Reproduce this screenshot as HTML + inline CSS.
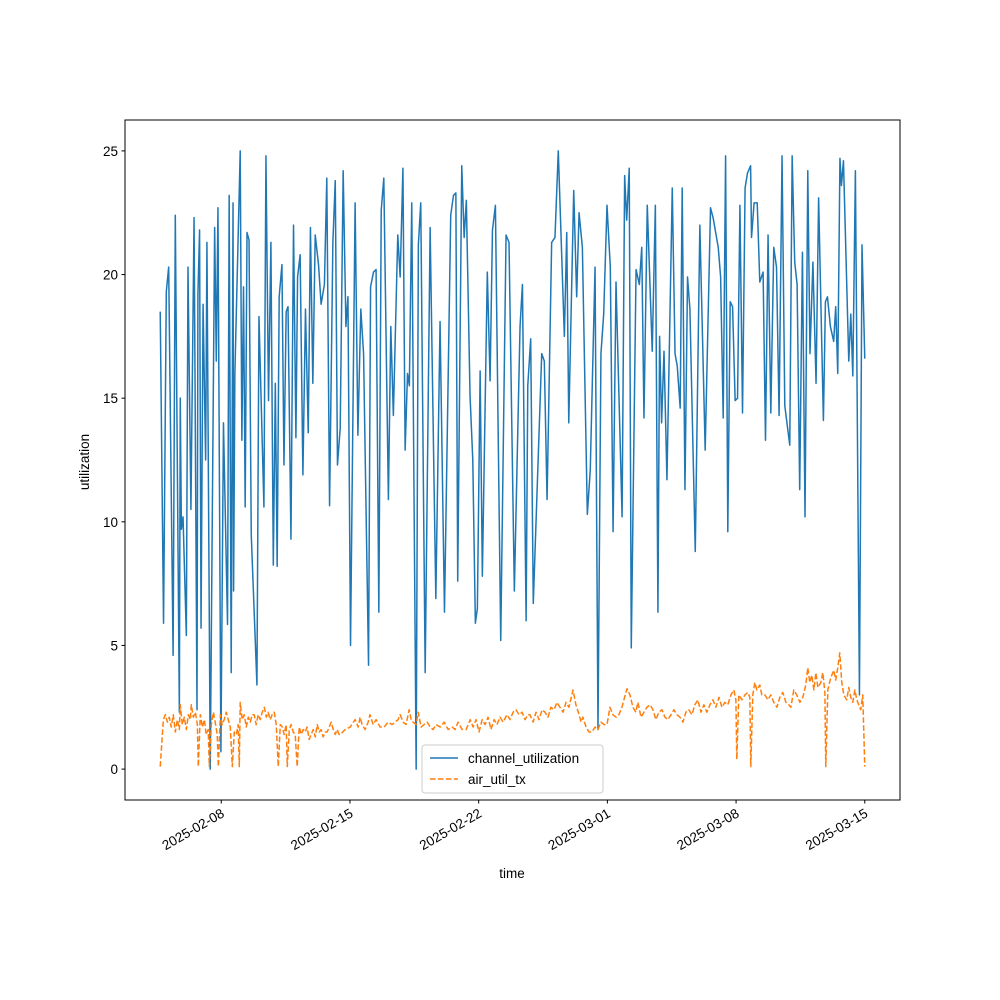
<!DOCTYPE html>
<html><head><meta charset="utf-8">
<style>
body{margin:0;background:#fff;}
svg{display:block;font-family:"Liberation Sans","DejaVu Sans",sans-serif;}
</style></head>
<body>
<svg id="chart" width="1000" height="1000" viewBox="0 0 1000 1000">
<rect x="0" y="0" width="1000" height="1000" fill="#fff"/>
<g id="plot"></g>
<g id="axes"></g>
<rect x="125" y="120" width="775" height="680" fill="none" stroke="#000" stroke-width="1"/>
<text x="512" y="878" font-size="13.5" text-anchor="middle">time</text>
<text x="0" y="0" font-size="13.5" text-anchor="middle" transform="translate(89,462) rotate(-90)">utilization</text>
<g>
<rect x="422" y="745" width="181" height="48" rx="3" fill="#fff" fill-opacity="0.8" stroke="#ccc"/>
<line x1="430" y1="758" x2="458" y2="758" stroke="#1f77b4" stroke-width="1.5"/>
<text x="468" y="763" font-size="13.5">channel_utilization</text>
<line x1="430" y1="779" x2="458" y2="779" stroke="#ff7f0e" stroke-width="1.5" stroke-dasharray="5.55,2.4"/>
<text x="468" y="784" font-size="13.5">air_util_tx</text>
</g>
</svg>
<script>
// time unit: days since 2025-02-01 00:00
const chDays = [3.68,3.86,4.01,4.14,4.38,4.50,4.72,4.77,4.83,4.92,5.10,5.19,5.35,5.52,5.68,5.73,5.82,5.90,6.01,6.15,6.22,6.40,6.64,6.73,6.82,6.98,7.12,7.34,7.43,7.54,7.64,7.67,7.74,8.03,8.12,8.21,8.30,8.40,8.51,8.63,8.94,9.05,9.32,9.43,9.57,9.70,9.83,9.94,10.04,10.15,10.30,10.41,10.53,10.63,10.79,10.93,11.06,11.15,11.29,11.44,11.58,11.73,11.85,11.98,12.11,12.29,12.43,12.61,12.74,12.89,13.07,13.20,13.32,13.47,13.63,13.78,13.89,14.03,14.28,14.43,14.59,14.74,15.01,15.12,15.28,15.42,15.57,15.70,15.84,16.09,16.22,16.36,16.60,16.73,16.88,17.00,17.13,17.23,17.36,17.60,17.72,17.85,18.09,18.36,18.67,18.90,19.14,19.48,19.63,19.76,19.86,20.08,20.21,20.33,20.53,20.68,20.82,20.93,21.08,21.20,21.47,21.62,21.75,21.91,22.20,22.49,22.65,22.94,23.25,23.38,23.58,23.67,23.83,23.97,24.43,24.57,24.72,24.97,25.15,25.33,25.66,25.79,25.90,26.17,26.33,26.46,26.64,26.91,27.07,27.33,27.49,27.65,27.80,27.98,28.16,28.31,28.47,28.80,28.94,29.05,29.19,29.30,29.56,29.74,29.87,29.99,30.17,30.44,30.61,30.75,30.84,30.95,31.08,31.24,31.53,31.68,31.80,31.96,32.07,32.22,32.36,32.49,32.78,33.03,33.32,33.61,33.75,34.03,34.16,34.30,34.43,34.55,34.68,34.81,34.95,35.08,35.21,35.35,35.49,35.62,35.79,35.84,35.98,36.15,36.29,36.47,36.60,36.74,36.89,37.05,37.20,37.34,37.50,37.65,37.92,38.05,38.19,38.32,38.46,38.61,38.75,38.90,39.02,39.18,39.35,39.49,39.75,39.86,39.97,40.13,40.31,40.42,40.53,40.65,40.73,40.84,41.13,41.24,41.35,41.49,41.71,41.85,42.00];
const chVals = [18.5,5.9,19.3,20.3,4.6,22.4,2.3,15.0,9.7,10.2,5.4,20.3,10.5,22.3,2.4,19.2,21.8,5.7,18.8,12.5,21.3,0,21.9,16.5,22.7,0.7,14.0,5.85,23.2,3.9,22.9,7.2,16.0,25.0,13.3,19.5,10.6,21.7,21.4,9.5,3.4,18.3,10.6,24.8,14.9,21.3,8.25,15.6,8.2,19.1,20.4,12.3,18.5,18.7,9.3,22.0,13.4,19.9,20.8,11.9,18.6,13.6,21.9,15.6,21.6,20.4,18.8,19.6,23.9,10.65,21.3,23.8,12.3,13.8,24.2,17.9,19.1,5.0,22.9,13.5,18.6,16.8,4.2,19.5,20.1,20.2,6.35,22.6,23.9,10.9,17.9,14.3,21.6,19.9,24.3,12.9,16.0,15.5,22.9,0,21.2,22.9,3.9,21.9,6.9,18.1,6.35,22.4,23.2,23.3,7.6,24.4,21.5,23.0,15.1,12.5,5.9,6.5,16.1,7.8,20.1,15.7,21.8,22.8,5.2,21.6,21.3,7.2,17.9,19.6,6.0,15.5,17.4,6.7,16.8,16.5,10.9,21.3,21.5,25.0,17.5,21.7,14.0,23.4,19.1,22.5,21.1,10.3,12.1,20.3,1.6,16.8,18.4,22.8,20.3,9.6,19.7,10.2,24.0,22.2,24.3,4.9,20.2,19.6,21.1,14.2,22.8,16.9,22.8,6.35,17.5,14.0,16.9,11.7,23.5,16.8,16.3,14.6,23.5,11.3,19.9,18.6,8.8,22.0,12.9,22.7,22.3,21.1,19.9,14.2,24.8,9.6,18.9,18.7,14.9,15.0,22.8,14.4,23.5,24.1,24.4,21.5,22.9,22.9,19.7,20.1,13.3,21.6,14.4,21.1,20.3,14.3,24.8,14.7,13.1,24.8,20.5,19.6,11.3,20.9,10.2,24.2,16.8,20.5,15.6,23.1,14.1,18.9,19.1,17.9,17.3,18.7,16.0,24.7,23.6,24.6,16.5,18.4,15.9,24.2,3.0,21.2,16.6];
const airDays = [3.68,3.85,3.96,4.07,4.17,4.28,4.39,4.50,4.61,4.72,4.77,4.88,4.99,5.10,5.21,5.32,5.37,5.48,5.59,5.70,5.75,5.86,5.97,6.08,6.18,6.29,6.35,6.46,6.57,6.67,6.78,6.84,6.95,7.05,7.16,7.27,7.38,7.49,7.60,7.71,7.82,7.92,7.98,8.03,8.14,8.25,8.36,8.47,8.58,8.68,8.79,8.90,9.01,9.12,9.23,9.34,9.45,9.55,9.66,9.77,9.88,9.99,10.10,10.21,10.32,10.42,10.53,10.59,10.70,10.80,10.91,11.02,11.13,11.24,11.35,11.46,11.57,11.67,11.78,11.89,12.00,12.11,12.22,12.33,12.43,12.54,12.65,12.76,12.87,12.98,13.09,13.20,13.30,13.41,13.47,13.74,14.01,14.28,14.45,14.55,14.66,14.82,14.99,15.09,15.26,15.42,15.64,15.86,16.08,16.29,16.45,16.62,16.73,16.89,17.05,17.22,17.33,17.43,17.60,17.71,17.87,18.03,18.20,18.36,18.52,18.69,18.91,19.12,19.34,19.56,19.72,19.88,20.10,20.32,20.54,20.70,20.86,21.02,21.19,21.35,21.51,21.67,21.84,22.00,22.16,22.33,22.54,22.71,22.87,23.03,23.20,23.36,23.52,23.68,23.79,23.96,24.12,24.28,24.45,24.61,24.77,24.93,25.10,25.26,25.42,25.59,25.75,25.91,26.13,26.29,26.46,26.57,26.67,26.84,27.00,27.16,27.33,27.49,27.65,27.82,27.98,28.14,28.30,28.47,28.63,28.79,28.90,29.07,29.23,29.39,29.55,29.66,29.83,29.99,30.15,30.32,30.48,30.64,30.80,30.97,31.13,31.29,31.46,31.62,31.78,31.95,32.11,32.27,32.43,32.60,32.76,32.92,33.09,33.25,33.41,33.58,33.74,33.90,34.07,34.23,34.39,34.55,34.72,34.88,34.99,35.04,35.15,35.32,35.48,35.64,35.75,35.80,35.91,36.02,36.13,36.29,36.40,36.57,36.73,36.89,37.05,37.22,37.38,37.54,37.71,37.87,37.98,38.14,38.30,38.47,38.63,38.79,38.90,39.01,39.12,39.23,39.34,39.45,39.61,39.72,39.83,39.88,39.99,40.15,40.32,40.42,40.53,40.64,40.75,40.86,41.02,41.13,41.24,41.35,41.46,41.57,41.67,41.78,41.89,42.00];
const airVals = [0.1,2.0,2.2,1.9,2.1,1.7,2.2,1.5,2.0,1.6,2.6,1.8,2.1,1.6,2.2,2.0,2.6,2.1,2.3,1.8,0.1,2.2,1.7,2.0,1.4,1.6,0.1,1.8,2.3,1.9,1.4,0.1,2.2,1.8,2.0,2.3,2.0,1.7,0.1,1.5,1.4,1.8,0.1,2.7,2.0,2.2,1.7,2.1,1.9,2.2,2.2,1.8,2.2,2.0,2.3,2.5,2.1,2.3,2.0,2.2,2.3,1.8,0.1,1.8,1.7,1.4,1.8,0.1,1.6,1.8,1.5,1.4,0.1,1.7,1.4,1.6,1.5,1.7,1.2,1.4,1.6,1.3,1.8,1.5,1.6,1.3,1.5,1.5,1.7,1.9,1.6,1.4,1.6,1.4,1.4,1.6,1.7,2.0,1.7,2.1,1.8,1.6,1.9,2.2,1.8,2.0,1.7,1.7,1.9,1.8,1.9,2.0,2.2,1.9,1.8,2.4,2.0,1.9,1.8,2.3,1.7,1.8,1.9,1.7,1.6,1.8,1.7,1.9,1.6,1.7,1.6,1.9,1.6,1.6,2.0,1.7,2.0,1.5,2.0,1.8,2.1,1.6,2.0,1.8,2.1,1.9,2.2,2.0,2.3,2.4,2.2,2.3,2.0,2.2,2.2,1.9,2.3,2.0,2.4,2.3,2.1,2.5,2.4,2.7,2.5,2.3,2.7,2.5,3.2,2.6,2.2,1.9,2.1,1.7,1.5,1.5,1.7,1.6,1.9,1.8,1.8,2.5,2.2,2.1,2.2,2.5,2.8,3.25,3.0,2.5,2.3,2.7,2.1,2.3,2.5,2.6,2.4,2.0,2.3,2.4,2.1,2.0,2.2,2.4,2.2,2.1,1.9,2.3,2.4,2.2,2.6,2.8,2.3,2.6,2.3,2.6,2.8,2.5,2.9,2.5,2.7,2.6,3.0,3.2,2.8,0.4,3.0,2.8,3.0,3.1,2.9,0.1,3.0,3.5,3.2,3.4,3.0,3.0,2.8,3.0,2.7,2.5,2.9,3.1,2.7,2.6,2.5,3.2,3.0,2.7,2.9,3.4,4.1,3.5,3.8,3.2,3.9,3.3,3.5,3.9,3.1,0.1,3.2,3.7,4.0,3.6,4.1,4.7,3.5,3.0,2.8,3.3,2.9,2.7,3.2,2.8,2.6,2.4,3.0,0.1];
const xTickDays = [7,14,21,28,35,42];
const xTickLabels = ["2025-02-08","2025-02-15","2025-02-22","2025-03-01","2025-03-08","2025-03-15"];
const yTicks = [0,5,10,15,20,25];

const NS = "http://www.w3.org/2000/svg";
const X0 = 125, X1 = 900, Y0 = 800, Y1 = 120;
const allD = chDays.concat(airDays), allV = chVals.concat(airVals);
const dMin = Math.min(...allD), dMax = Math.max(...allD);
const vMin = Math.min(...allV), vMax = Math.max(...allV);
const dPad = (dMax - dMin) * 0.05, vPad = (vMax - vMin) * 0.05;
function xs(d){ return X0 + (d - (dMin - dPad)) / ((dMax + dPad) - (dMin - dPad)) * (X1 - X0); }
function ys(v){ return Y0 - (v - (vMin - vPad)) / ((vMax + vPad) - (vMin - vPad)) * (Y0 - Y1); }

const plot = document.getElementById('plot');
const axes = document.getElementById('axes');

function series(days, vals, color, dash, name){
  const p = document.createElementNS(NS, 'path');
  let d = '';
  for (let i = 0; i < days.length; i++) d += (i ? 'L' : 'M') + xs(days[i]).toFixed(2) + ',' + ys(vals[i]).toFixed(2);
  p.setAttribute('d', d);
  p.setAttribute('fill', 'none');
  p.setAttribute('stroke', color);
  p.setAttribute('stroke-width', '1.5');
  p.setAttribute('stroke-linejoin', 'round');
  if (dash) p.setAttribute('stroke-dasharray', dash);
  
  
  plot.appendChild(p);
}
series(chDays, chVals, '#1f77b4', null, 'channel-utilization-line');
series(airDays, airVals, '#ff7f0e', '5.55,2.4', 'air-util-tx-line');

yTicks.forEach(v => {
  const y = ys(v);
  const l = document.createElementNS(NS, 'line');
  l.setAttribute('x1', X0 - 3.5); l.setAttribute('x2', X0);
  l.setAttribute('y1', y); l.setAttribute('y2', y);
  l.setAttribute('stroke', '#000');
  
  
  axes.appendChild(l);
  const t = document.createElementNS(NS, 'text');
  t.setAttribute('x', X0 - 7); t.setAttribute('y', y + 5);
  t.setAttribute('font-size', '13.5');
  t.setAttribute('text-anchor', 'end');
  t.textContent = v;
  
  
  axes.appendChild(t);
});

xTickDays.forEach((d, i) => {
  const x = xs(d);
  const l = document.createElementNS(NS, 'line');
  l.setAttribute('x1', x); l.setAttribute('x2', x);
  l.setAttribute('y1', Y0); l.setAttribute('y2', Y0 + 3.5);
  l.setAttribute('stroke', '#000');
  
  
  axes.appendChild(l);
  const t = document.createElementNS(NS, 'text');
  t.setAttribute('font-size', '13.5');
  t.setAttribute('text-anchor', 'end');
  t.setAttribute('transform', 'translate(' + (x + 4) + ',' + (Y0 + 16) + ') rotate(-30)');
  t.textContent = xTickLabels[i];
  
  
  axes.appendChild(t);
});
</script>
</body></html>
